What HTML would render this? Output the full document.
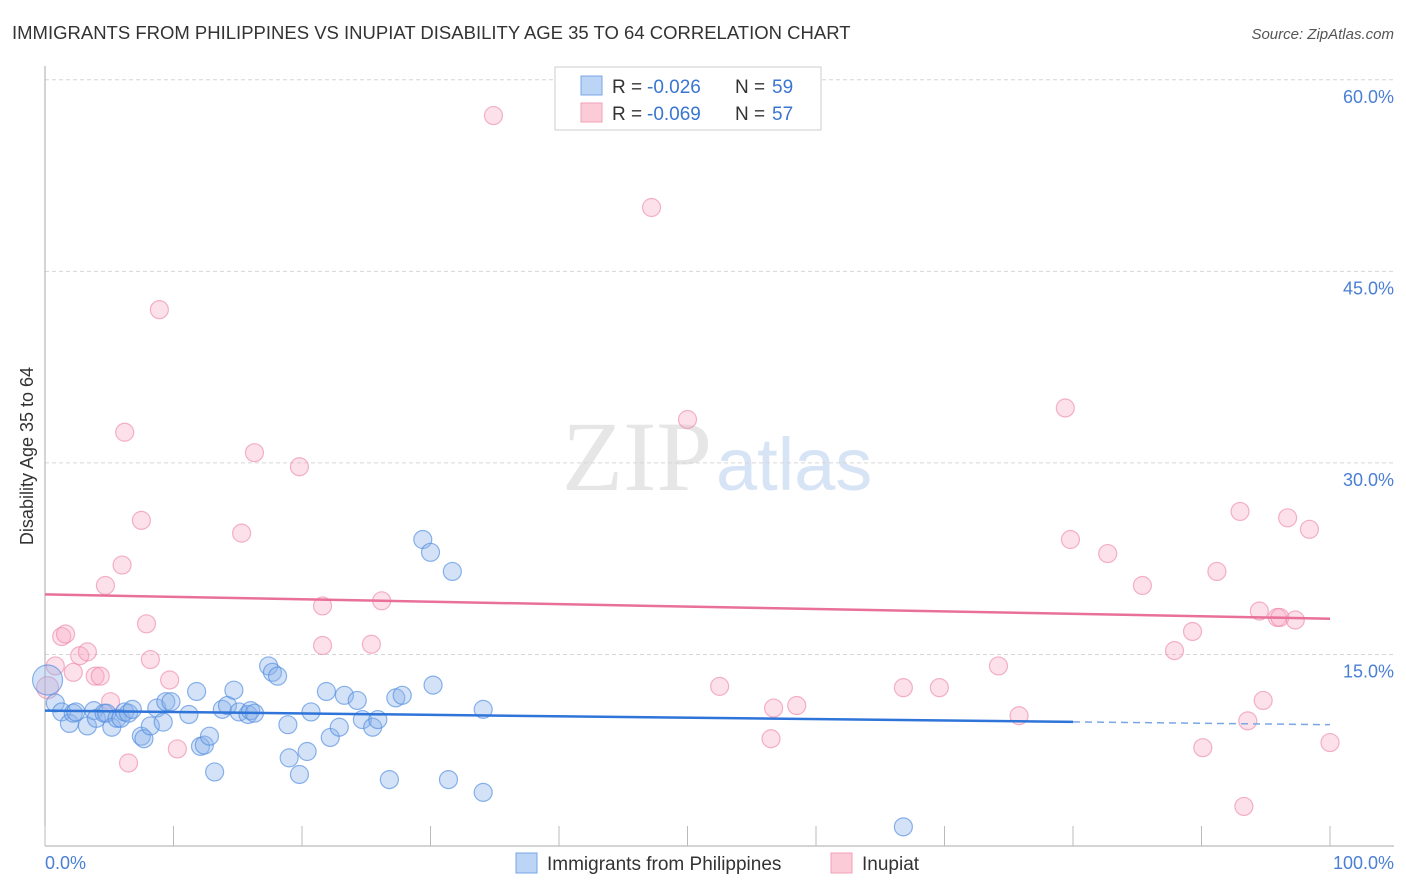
<!DOCTYPE html>
<html><head><meta charset="utf-8"><style>
body{margin:0;background:#fff;font-family:"Liberation Sans",sans-serif}
svg{display:block}
</style></head><body>
<svg id="chart" width="1406" height="892">
<text x="12" y="39" font-size="18.5" fill="#333">IMMIGRANTS FROM PHILIPPINES VS INUPIAT DISABILITY AGE 35 TO 64 CORRELATION CHART</text>
<text x="1394" y="39" font-size="15" fill="#555" font-style="italic" text-anchor="end">Source: ZipAtlas.com</text>
<text x="712" y="490" font-size="100" fill="#e6e6e6" font-family="Liberation Serif,serif" text-anchor="end">ZIP</text>
<text x="716" y="490" font-size="74" fill="#d6e4f5">atlas</text>
<g id="grid"></g><g id="axes"></g><g id="pts"></g><g id="lines"></g>
<text transform="translate(33,456) rotate(-90)" font-size="18" fill="#333" text-anchor="middle">Disability Age 35 to 64</text>
<text x="45" y="869" font-size="18" fill="#4a7fd4">0.0%</text>
<text x="1394" y="869" font-size="18" fill="#4a7fd4" text-anchor="end">100.0%</text>
<g>
<rect x="555" y="67" width="266" height="63" fill="#fff" stroke="#ccc"/>
<rect x="581" y="76" width="21" height="19" fill="#bcd4f5" stroke="#7aa6e6"/>
<rect x="581" y="103" width="21" height="19" fill="#fbcbd8" stroke="#f0a0b8"/>
<text x="612" y="93" font-size="19" fill="#333">R = </text><text x="647" y="93" font-size="19" fill="#3a75d0">-0.026</text>
<text x="735" y="93" font-size="19" fill="#333">N = </text><text x="772" y="93" font-size="19" fill="#3a75d0">59</text>
<text x="612" y="120" font-size="19" fill="#333">R = </text><text x="647" y="120" font-size="19" fill="#3a75d0">-0.069</text>
<text x="735" y="120" font-size="19" fill="#333">N = </text><text x="772" y="120" font-size="19" fill="#3a75d0">57</text>
</g>
<g>
<rect x="516" y="853" width="21" height="20" fill="#bcd4f5" stroke="#7aa6e6"/>
<text x="547" y="870" font-size="19" fill="#333">Immigrants from Philippines</text>
<rect x="831" y="853" width="21" height="20" fill="#fbcbd8" stroke="#f0a0b8"/>
<text x="862" y="870" font-size="19" fill="#333">Inupiat</text>
</g>
</svg>
<script>
const yTicks=[15,30,45,60];
const yTickLabels=["15.0%","30.0%","45.0%","60.0%"];
const xTicks=[0,10,20,30,40,50,60,70,80,90,100];
const blueX=[0.2,0.8,1.3,1.9,2.2,2.4,3.3,3.8,4.0,4.6,4.8,5.2,5.6,5.9,6.2,6.5,6.8,7.5,7.7,8.2,8.7,9.2,9.4,9.8,11.2,11.8,12.1,12.4,12.8,13.2,13.8,14.2,14.7,15.1,15.8,16.0,16.3,17.4,17.7,18.1,18.9,19.0,19.8,20.4,20.7,21.9,22.2,22.9,23.3,24.3,24.7,25.5,25.9,26.8,27.3,27.8,30.2,31.4,34.1,34.1,29.4,30.0,31.7,66.8];
const blueY=[13.0,11.2,10.5,9.6,10.4,10.5,9.4,10.6,10.0,10.4,10.4,9.3,10.0,10.0,10.5,10.4,10.7,8.6,8.4,9.4,10.8,9.7,11.3,11.3,10.3,12.1,7.8,7.9,8.6,5.8,10.7,11.0,12.2,10.5,10.3,10.6,10.4,14.1,13.6,13.3,9.5,6.9,5.6,7.4,10.5,12.1,8.5,9.3,11.8,11.4,9.9,9.3,9.9,5.2,11.6,11.8,12.6,5.2,10.7,4.2,24.0,23.0,21.5,1.5];
const pinkX=[0.2,0.8,1.3,1.6,2.2,2.7,3.3,3.9,4.3,4.7,5.1,6.0,6.2,6.5,7.5,7.9,8.2,8.9,9.7,10.3,15.3,16.3,19.8,21.6,21.6,25.4,26.2,34.9,47.2,50.0,52.5,56.5,56.7,58.5,66.8,69.6,74.2,75.8,79.4,79.8,82.7,85.4,87.9,89.3,90.1,91.2,93.0,93.3,93.6,94.5,94.8,95.9,96.1,96.7,97.3,98.4,100];
const pinkY=[12.4,14.1,16.4,16.6,13.6,14.9,15.2,13.3,13.3,20.4,11.3,22.0,32.4,6.5,25.5,17.4,14.6,42.0,13.0,7.6,24.5,30.8,29.7,18.8,15.7,15.8,19.2,57.2,50.0,33.4,12.5,8.4,10.8,11.0,12.4,12.4,14.1,10.2,34.3,24.0,22.9,20.4,15.3,16.8,7.7,21.5,26.2,3.1,9.8,18.4,11.4,17.9,17.9,25.7,17.7,24.8,8.1];
const blueTrend=[10.6,9.5];
const pinkTrend=[19.7,17.8];
const NS="http://www.w3.org/2000/svg";
const xs=v=>45+v*12.85, ys=v=>846-v*12.77;
function mk(t,a,p){const e=document.createElementNS(NS,t);for(const k in a)e.setAttribute(k,a[k]);document.getElementById(p).appendChild(e);return e;}
yTicks.forEach((t,i)=>{
 const l=mk('line',{x1:45,x2:1394,y1:ys(t),y2:ys(t),stroke:'#d6d6d6','stroke-dasharray':'4,3'},'grid');
 
 
 const tx=mk('text',{x:1394,y:ys(t)+23,'font-size':18,fill:'#4a7fd4','text-anchor':'end'},'grid');
 tx.textContent=yTickLabels[i];
 
 
});
const ya=mk('line',{x1:45,x2:45,y1:66,y2:846,stroke:'#aaa'},'axes');


const xa=mk('line',{x1:45,x2:1394,y1:846,y2:846,stroke:'#aaa'},'axes');


xTicks.forEach(t=>{
 const l=mk('line',{x1:xs(t),x2:xs(t),y1:826,y2:846,stroke:'#bbb'},'axes');
 
 
});
pinkX.forEach((x,i)=>{
 const c=mk('circle',{cx:xs(x),cy:ys(pinkY[i]),r:(i==0?11:9),fill:'rgba(248,170,195,0.35)',stroke:'rgba(235,130,165,0.6)','stroke-width':1.2},'pts');
 
 
});
blueX.forEach((x,i)=>{
 const c=mk('circle',{cx:xs(x),cy:ys(blueY[i]),r:(i==0?15:9),fill:'rgba(140,180,235,0.38)',stroke:'rgba(80,140,225,0.65)','stroke-width':1.2},'pts');
 
 
});
const bAt=v=>blueTrend[0]+(blueTrend[1]-blueTrend[0])*v/100;
const bl=mk('line',{x1:xs(0),y1:ys(bAt(0)),x2:xs(80),y2:ys(bAt(80)),stroke:'#2f74d8','stroke-width':2.5},'lines');


const bd=mk('line',{x1:xs(80),y1:ys(bAt(80)),x2:xs(100),y2:ys(bAt(100)),stroke:'#7aa6e6','stroke-width':1.5,'stroke-dasharray':'7,5'},'lines');


const pl=mk('line',{x1:xs(0),y1:ys(pinkTrend[0]),x2:xs(100),y2:ys(pinkTrend[1]),stroke:'#e8709a','stroke-width':2.5},'lines');


</script>
</body></html>
